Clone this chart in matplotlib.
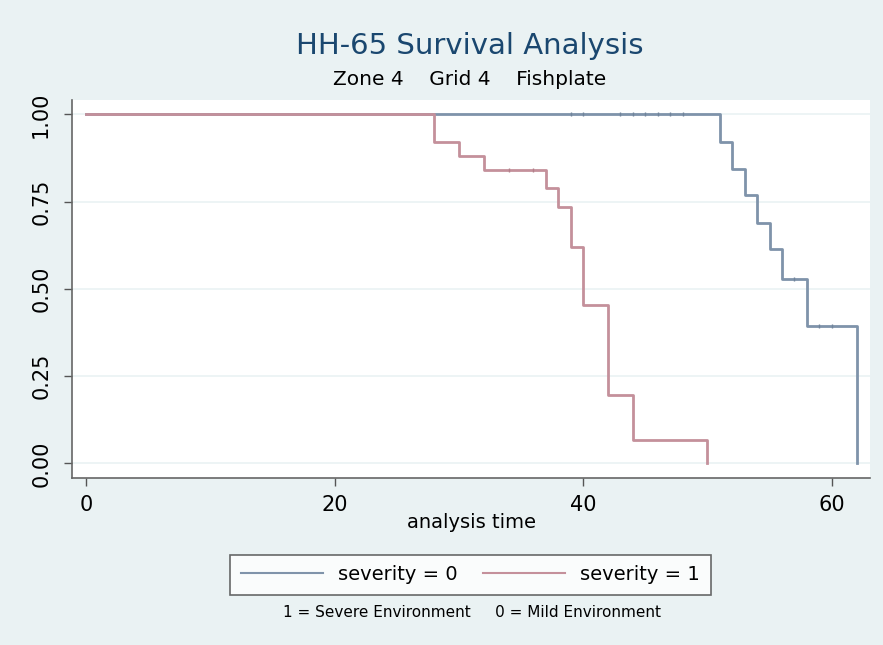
import matplotlib
matplotlib.use("Agg")
import matplotlib.pyplot as plt
from matplotlib.lines import Line2D

# Kaplan-Meier steps
mild_time = [0, 51, 52, 53, 54, 55, 56, 58, 62]
mild_surv = [1.0, 0.92, 0.845, 0.768, 0.69, 0.615, 0.528, 0.393, 0.0]
mild_cens_time = [39, 40, 43, 44, 45, 46, 47, 48, 57, 59, 60]
mild_cens_surv = [1.0, 1.0, 1.0, 1.0, 1.0, 1.0, 1.0, 1.0, 0.528, 0.393, 0.393]

severe_time = [0, 28, 30, 32, 37, 38, 39, 40, 42, 44, 50]
severe_surv = [1.0, 0.92, 0.88, 0.84, 0.788, 0.735, 0.621, 0.455, 0.196, 0.066, 0.0]
severe_cens_time = [34, 36]
severe_cens_surv = [0.84, 0.84]

x_ticks = [0, 20, 40, 60]
y_ticks = [0.0, 0.25, 0.5, 0.75, 1.0]
y_labels = ["0.00", "0.25", "0.50", "0.75", "1.00"]

BG = "#eaf2f3"
BLUE = "#7f93aa"
RED = "#c4909b"
NAVY = "#1a476f"

plt.rcParams['font.family'] = ['DejaVu Sans']

fig = plt.figure(figsize=(8.83, 6.45), dpi=100, facecolor=BG)
ax = fig.add_axes([0.0815, 0.259, 0.904, 0.586])
ax.set_facecolor("white")

for y in y_ticks:
    ax.axhline(y, color=BG, lw=1.2, zorder=0)

ax.plot(mild_time, mild_surv, drawstyle='steps-post', color=BLUE, lw=2)
ax.plot(mild_cens_time, mild_cens_surv, ls='none', marker='|', ms=3, mew=1, color="#70849b")
ax.plot(severe_time, severe_surv, drawstyle='steps-post', color=RED, lw=2)
ax.plot(severe_cens_time, severe_cens_surv, ls='none', marker='|', ms=3, mew=1, color="#b3808b")

ax.set_xlim(-1.13, 63.1)
ax.set_ylim(-0.0415, 1.0415)
ax.set_xticks(x_ticks)
ax.set_yticks(y_ticks)
ax.set_yticklabels(y_labels, rotation=90, va='center')
ax.tick_params(axis='both', labelsize=15, length=6, width=1, color="#555555")
ax.tick_params(axis='y', pad=9)
ax.tick_params(axis='x', pad=6)

for s in ['top', 'right']:
    ax.spines[s].set_visible(False)
for s in ['left', 'bottom']:
    ax.spines[s].set_color("#666666")
    ax.spines[s].set_linewidth(1.2)

ax.set_xlabel("analysis time", fontsize=14, labelpad=-1)

fig.text(0.532, 0.928, "HH-65 Survival Analysis", ha='center', va='center', fontsize=21, color=NAVY)
fig.text(0.532, 0.876, "Zone 4    Grid 4    Fishplate", ha='center', va='center', fontsize=14.5)

handles = [Line2D([], [], color=BLUE, lw=1.5), Line2D([], [], color=RED, lw=1.5)]
leg = fig.legend(handles, ["severity = 0", "severity = 1"], loc='center', bbox_to_anchor=(0.533, 0.109),
                 ncol=2, fontsize=14, frameon=True, fancybox=False, handlelength=4.2,
                 columnspacing=1.3, borderpad=0.55, handletextpad=0.8, borderaxespad=0)
leg.get_frame().set_edgecolor("#444444")
leg.get_frame().set_linewidth(1.2)

fig.text(0.535, 0.051, "1 = Severe Environment     0 = Mild Environment", ha='center', va='center', fontsize=11)

fig.savefig("out.png", dpi=100, facecolor=BG)
